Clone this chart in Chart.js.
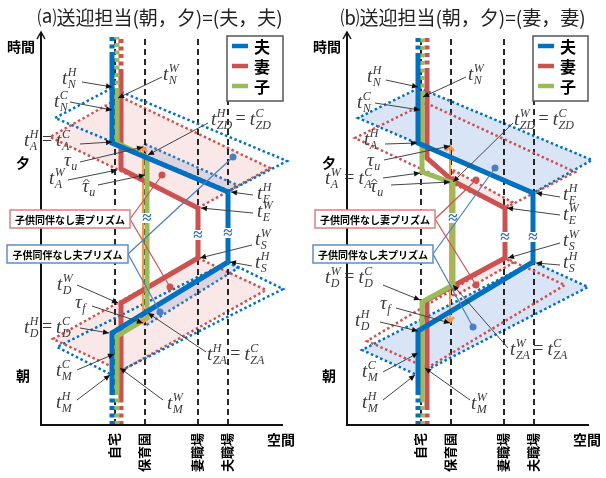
<!DOCTYPE html>
<html>
<head>
<meta charset="utf-8">
<script src="https://cdn.jsdelivr.net/npm/chart.js@4.4.1/dist/chart.umd.min.js"></script>
<style>
  body { margin: 0; background: #fff; width: 606px; height: 478px; overflow: hidden; }
  .panel { position: absolute; top: 0; width: 303px; height: 478px; }
</style>
</head>
<body>
<div class="panel" style="left:0"><canvas id="chartA" width="303" height="478"></canvas></div>
<div class="panel" style="left:303px"><canvas id="chartB" width="303" height="478"></canvas></div>
<script>
// space axis: 自宅 = 0, time axis: 0 at the bottom
const placeNames = ['自宅', '保育園', '妻職場', '夫職場'];
const placeX = [0, 30, 83, 113];
const X_MIN = -74, X_MAX = 185, X_AXIS_END = 168;
const T_MAX = 393, T_TOP = 388;

// ---- (a) 送迎担当 = 夫, 夫 ----
const a_husband = [[-3, 33], [-3, 92], [113, 163], [113, 233], [-3, 282], [-3, 369]];
const a_wife = [[6, 25], [6, 122], [83, 167], [83, 217], [6, 256], [6, 352]];
const a_child = [[2, 33], [2, 89], [32, 107], [32, 268], [2, 282], [2, 333]];
const a_nursery = [[28, 102], [28, 278]];
const a_wifePrismPM = [[6, 328], [155, 257], [83, 217], [-65, 288]];
const a_husbandPrismPM = [[-3, 337], [172, 264], [114, 234], [-60, 307]];
const a_husbandFreePM = [[30, 281], [122, 240], [113, 233], [30, 268]];
const a_wifePrismAM = [[83, 167], [151, 135], [6, 54], [-62, 86]];
const a_husbandPrismAM = [[113, 163], [168, 136], [-3, 50], [-58, 78]];
const a_husbandFreeAM = [[30, 112], [113, 163], [123, 157], [30, 99]];
const a_wifeDots = [[47, 250], [55, 138]];
const a_husbandDots = [[118, 268], [45, 113]];
const a_breaks = [[113, 192], [83, 190], [32, 207]];

// ---- (b) 送迎担当 = 妻, 妻 ----
const b_husband = [[-3, 33], [-3, 94], [112, 163], [112, 232], [-3, 282], [-3, 368]];
const b_wife = [[6, 19], [6, 125], [84, 167], [84, 217], [32, 244], [6, 267], [6, 353]];
const b_child = [[1, 25], [1, 123], [32, 140], [32, 242], [1, 253], [1, 330]];
const b_nursery = [[29, 103], [29, 279]];
const b_husbandPrismPM = [[-2, 337], [171, 265], [112, 232], [-63, 307]];
const b_wifePrismPM = [[5, 322], [154, 253], [84, 217], [-66, 287]];
const b_wifeFreePM = [[32, 255], [91, 223], [84, 217], [32, 243]];
const b_husbandPrismAM = [[112, 163], [167, 138], [-4, 50], [-59, 75]];
const b_wifePrismAM = [[84, 167], [144, 140], [6, 57], [-54, 84]];
const b_wifeFreeAM = [[32, 140], [84, 167], [92, 162], [32, 128]];
const b_wifeDots = [[55, 245], [55, 140]];
const b_husbandDots = [[74, 257], [52, 98]];
const b_breaks = [[112, 188], [84, 188], [32, 207]];

// label texts: [base, subscript, superscript] or '='
const a_labels = [
  { p: [['t', 'N', 'H']], at: [-53, 341], from: [-33, 343], to: [-3, 338] },
  { p: [['t', 'N', 'W']], at: [48, 345], from: [47, 348], to: [3, 327] },
  { p: [['t', 'N', 'C']], at: [-61, 318], from: [-45, 323], to: [-3, 315] },
  { p: [['t', 'A', 'H'], '=', ['t', 'A', 'C']], at: [-91, 279], from: [-35, 281], to: [-3, 283] },
  { p: [['t', 'ZD', 'H'], '=', ['t', 'ZD', 'C']], at: [96, 300], from: [93, 302], to: [33, 270] },
  { p: [['τ', 'u', '']], at: [-51, 259], from: [-35, 263], to: [28, 278] },
  { p: [['t', 'A', 'W']], at: [-66, 241], from: [-47, 245], to: [2, 255] },
  { p: [['τ̂', 'u', '']], at: [-33, 233], from: [-17, 240], to: [30, 250] },
  { p: [['t', 'E', 'H']], at: [142, 226], from: [138, 230], to: [116, 233] },
  { p: [['t', 'E', 'W']], at: [142, 208], from: [138, 212], to: [86, 217] },
  { p: [['t', 'S', 'W']], at: [140, 180], from: [137, 180], to: [85, 167] },
  { p: [['t', 'S', 'H']], at: [140, 157], from: [137, 159], to: [115, 163] },
  { p: [['t', 'D', 'W']], at: [-58, 135], from: [-38, 140], to: [3, 122] },
  { p: [['τ', 'f', '']], at: [-40, 117], from: [-23, 119], to: [28, 102] },
  { p: [['t', 'D', 'H'], '=', ['t', 'D', 'C']], at: [-91, 92], from: [-35, 97], to: [-6, 92] },
  { p: [['t', 'ZA', 'H'], '=', ['t', 'ZA', 'C']], at: [92, 65], from: [91, 73], to: [33, 112] },
  { p: [['t', 'M', 'C']], at: [-59, 49], from: [-38, 55], to: [-1, 71] },
  { p: [['t', 'M', 'H']], at: [-59, 17], from: [-38, 25], to: [-5, 50] },
  { p: [['t', 'M', 'W']], at: [52, 16], from: [48, 25], to: [5, 57] }
];
const b_labels = [
  { p: [['t', 'N', 'H']], at: [-54, 343], from: [-35, 345], to: [-3, 338] },
  { p: [['t', 'N', 'W']], at: [47, 345], from: [45, 348], to: [2, 328] },
  { p: [['t', 'N', 'C']], at: [-64, 317], from: [-46, 322], to: [-1, 315] },
  { p: [['t', 'A', 'H']], at: [-57, 280], from: [-36, 281], to: [-4, 282] },
  { p: [['t', 'ZD', 'W'], '=', ['t', 'ZD', 'C']], at: [93, 300], from: [92, 302], to: [32, 243] },
  { p: [['τ', 'u', '']], at: [-54, 259], from: [-37, 265], to: [29, 279] },
  { p: [['t', 'A', 'W'], '=', ['t', 'A', 'C']], at: [-96, 241], from: [-38, 247], to: [-1, 252] },
  { p: [['τ̂', 'u', '']], at: [-51, 233], from: [-30, 240], to: [29, 243] },
  { p: [['t', 'E', 'H']], at: [142, 225], from: [139, 228], to: [115, 232] },
  { p: [['t', 'E', 'W']], at: [142, 205], from: [139, 210], to: [86, 217] },
  { p: [['t', 'S', 'W']], at: [142, 179], from: [139, 182], to: [87, 167] },
  { p: [['t', 'S', 'H']], at: [142, 157], from: [139, 160], to: [115, 162] },
  { p: [['t', 'D', 'W'], '=', ['t', 'D', 'C']], at: [-96, 142], from: [-38, 140], to: [-1, 125] },
  { p: [['τ', 'f', '']], at: [-41, 116], from: [-25, 117], to: [29, 102] },
  { p: [['t', 'D', 'H']], at: [-66, 99], from: [-41, 103], to: [-3, 94] },
  { p: [['t', 'ZA', 'W'], '=', ['t', 'ZA', 'C']], at: [89, 70], from: [87, 77], to: [32, 140] },
  { p: [['t', 'M', 'C']], at: [-59, 48], from: [-38, 53], to: [-3, 72] },
  { p: [['t', 'M', 'H']], at: [-59, 17], from: [-38, 25], to: [-6, 50] },
  { p: [['t', 'M', 'W']], at: [50, 16], from: [49, 25], to: [4, 57] }
];

const BLUE = '#0070C0', RED = '#CC5252', GREEN = '#9BBB59', ORANGE = '#F79646';
const PINK_FILL = 'rgba(230,150,150,0.22)', BLUE_FILL = 'rgba(170,198,238,0.45)';
const FONT_JP = '"Noto Sans CJK JP", "Noto Sans", sans-serif';
const FONT_MATH = '"Liberation Serif", "DejaVu Serif", serif';

function pts(arr) { return arr.map(([x, y]) => ({ x, y })); }

function buildDatasets(d) {
  const ds = [];
  const add = (arr, style, order) => ds.push(Object.assign({
    data: pts(arr), order, pointRadius: 0, pointHoverRadius: 0, fill: false,
    tension: 0, clip: false, borderCapStyle: 'butt'
  }, style));
  const dotted = { borderWidth: 2.5, borderDash: [2.5, 2.6] };
  d.prisms.forEach(p => add(p.pts.concat([p.pts[0]]), Object.assign({
    borderColor: p.color, backgroundColor: p.fill || 'transparent', fill: p.fill ? 'shape' : false
  }, dotted), p.fill ? 30 : 20));
  placeX.forEach(x => add([[x, 0], [x, T_TOP]], { borderColor: '#111', borderWidth: 1.8, borderDash: [6, 4] }, 25));
  add(d.nursery, { borderColor: ORANGE, borderWidth: 2 }, 12);
  [[d.wife, RED, 11], [d.child, GREEN, 10], [d.husband, BLUE, 9]].forEach(([path, color, order]) => {
    const first = path[0], last = path[path.length - 1];
    const dash = { borderColor: color, borderWidth: 5, borderDash: [4, 3.5] };
    add([[first[0], 0], first], dash, order);
    add(path, { borderColor: color, borderWidth: 5, borderJoinStyle: 'miter' }, order);
    add([last, [last[0], T_TOP]], dash, order);
  });
  return ds;
}

function drawMath(ctx, x, y, parts) {
  let cx = x;
  ctx.textAlign = 'left';
  ctx.textBaseline = 'alphabetic';
  ctx.fillStyle = '#3a3a3a';
  parts.forEach(p => {
    if (p === '=') {
      ctx.font = `18px ${FONT_MATH}`;
      ctx.fillText('=', cx + 3, y - 1);
      cx += ctx.measureText('=').width + 7;
      return;
    }
    const [base, sub, sup] = p;
    const hat = base === 'τ̂';
    const b = hat ? 'τ' : base;
    ctx.font = `italic 19px ${FONT_MATH}`;
    ctx.fillText(b, cx, y);
    const bw = ctx.measureText(b).width;
    if (hat) {
      ctx.strokeStyle = '#3a3a3a';
      ctx.lineWidth = 1;
      ctx.beginPath();
      ctx.moveTo(cx + bw / 2 - 2, y - 10);
      ctx.lineTo(cx + bw / 2 + 1, y - 13);
      ctx.lineTo(cx + bw / 2 + 4, y - 10);
      ctx.stroke();
    }
    ctx.font = `italic 12px ${FONT_MATH}`;
    let w = 0;
    if (sup) { ctx.fillText(sup, cx + bw + 0.5, y - 8); w = Math.max(w, ctx.measureText(sup).width); }
    if (sub) { ctx.fillText(sub, cx + bw + 0.5, y + 4); w = Math.max(w, ctx.measureText(sub).width); }
    cx += bw + w + 1;
  });
}

function arrow(ctx, x1, y1, x2, y2) {
  ctx.strokeStyle = '#444';
  ctx.lineWidth = 1;
  ctx.beginPath(); ctx.moveTo(x1, y1); ctx.lineTo(x2, y2); ctx.stroke();
  const a = Math.atan2(y2 - y1, x2 - x1), L = 6, W = 2.8;
  ctx.fillStyle = '#111';
  ctx.beginPath();
  ctx.moveTo(x2, y2);
  ctx.lineTo(x2 - L * Math.cos(a) + W * Math.sin(a), y2 - L * Math.sin(a) - W * Math.cos(a));
  ctx.lineTo(x2 - L * Math.cos(a) - W * Math.sin(a), y2 - L * Math.sin(a) + W * Math.cos(a));
  ctx.closePath(); ctx.fill();
}

const diagram = {
  id: 'diagram',
  afterDatasetsDraw(chart, args, o) {
    const ctx = chart.ctx;
    const X = v => chart.scales.x.getPixelForValue(v);
    const Y = v => chart.scales.y.getPixelForValue(v);
    ctx.save();

    // axes
    ctx.strokeStyle = '#111';
    ctx.lineWidth = 2;
    ctx.setLineDash([]);
    ctx.beginPath();
    ctx.moveTo(X(X_MIN), Y(T_MAX));
    ctx.lineTo(X(X_MIN), Y(0));
    ctx.lineTo(X(X_AXIS_END), Y(0));
    ctx.stroke();
    ctx.lineWidth = 1.5;
    ctx.beginPath();
    ctx.moveTo(X(X_MIN) - 4, Y(T_MAX) + 7);
    ctx.lineTo(X(X_MIN), Y(T_MAX));
    ctx.lineTo(X(X_MIN) + 4, Y(T_MAX) + 7);
    ctx.stroke();

    // orange nursery hours arrow heads
    const [nb, nt] = o.nursery;
    ctx.strokeStyle = ORANGE;
    ctx.lineWidth = 2.5;
    ctx.beginPath();
    ctx.moveTo(X(nt[0]) - 4, Y(nt[1]) + 5); ctx.lineTo(X(nt[0]), Y(nt[1])); ctx.lineTo(X(nt[0]) + 4, Y(nt[1]) + 5);
    ctx.moveTo(X(nb[0]) - 4, Y(nb[1]) - 5); ctx.lineTo(X(nb[0]), Y(nb[1])); ctx.lineTo(X(nb[0]) + 4, Y(nb[1]) - 5);
    ctx.stroke();

    // ≈ breaks on long stays
    o.breaks.forEach(([x, t]) => {
      ctx.fillStyle = '#fff';
      ctx.fillRect(X(x) - 6, Y(t) - 5, 12, 10);
      ctx.fillStyle = '#2F6FB5';
      ctx.font = `bold 17px ${FONT_MATH}`;
      ctx.textAlign = 'center'; ctx.textBaseline = 'middle';
      ctx.fillText('≈', X(x), Y(t) + 1);
    });

    // callouts
    o.callouts.forEach(c => {
      ctx.strokeStyle = c.line; ctx.fillStyle = c.line; ctx.lineWidth = 1.2;
      c.dots.forEach(([x, t]) => {
        ctx.beginPath(); ctx.moveTo(X(c.box[1]), Y((c.box[2] + c.box[3]) / 2)); ctx.lineTo(X(x), Y(t)); ctx.stroke();
        ctx.beginPath(); ctx.arc(X(x), Y(t), 3.5, 0, Math.PI * 2); ctx.fill();
      });
      const x0 = X(c.box[0]), x1 = X(c.box[1]), y0 = Y(c.box[2]), y1 = Y(c.box[3]);
      ctx.fillStyle = '#fff'; ctx.fillRect(x0, y0, x1 - x0, y1 - y0);
      ctx.strokeStyle = c.border; ctx.lineWidth = 1.5; ctx.strokeRect(x0, y0, x1 - x0, y1 - y0);
      ctx.fillStyle = '#000'; ctx.font = `bold 10px ${FONT_JP}`;
      ctx.textAlign = 'center'; ctx.textBaseline = 'middle';
      ctx.fillText(c.text, (x0 + x1) / 2, (y0 + y1) / 2 + 1);
    });

    // labels with arrows
    o.labels.forEach(l => {
      arrow(ctx, X(l.from[0]), Y(l.from[1]), X(l.to[0]), Y(l.to[1]));
      drawMath(ctx, X(l.at[0]), Y(l.at[1]), l.p);
    });

    // legend
    const lg = o.legend;
    const lx0 = X(lg[0]), lx1 = X(lg[1]), ly0 = Y(lg[2]), ly1 = Y(lg[3]);
    ctx.fillStyle = '#fff'; ctx.fillRect(lx0, ly0, lx1 - lx0, ly1 - ly0);
    ctx.strokeStyle = '#555'; ctx.lineWidth = 1.5; ctx.strokeRect(lx0, ly0, lx1 - lx0, ly1 - ly0);
    [['夫', BLUE], ['妻', RED], ['子', GREEN]].forEach(([name, color], i) => {
      const yy = ly0 + 10 + i * 20;
      ctx.strokeStyle = color; ctx.lineWidth = 4.5;
      ctx.beginPath(); ctx.moveTo(lx0 + 5, yy); ctx.lineTo(lx0 + 21, yy); ctx.stroke();
      ctx.fillStyle = '#000'; ctx.font = `bold 16px ${FONT_JP}`;
      ctx.textAlign = 'left'; ctx.textBaseline = 'middle';
      ctx.fillText(name, lx0 + 27, yy + 1);
    });

    // axis texts
    ctx.fillStyle = '#000';
    ctx.font = `bold 14px ${FONT_JP}`;
    ctx.textAlign = 'center'; ctx.textBaseline = 'middle';
    ctx.fillText('時間', X(-94), Y(378));
    ctx.fillText('夕', X(-92), Y(262));
    ctx.fillText('朝', X(-92), Y(49));
    ctx.fillText('空間', X(166), Y(-15));
    ctx.font = `bold 13px ${FONT_JP}`;
    placeNames.forEach((name, i) => {
      ctx.save();
      ctx.translate(X(placeX[i]) - 1, Y(-8));
      ctx.rotate(-Math.PI / 2);
      ctx.textAlign = 'right'; ctx.textBaseline = 'middle';
      ctx.fillText(name, 0, 0);
      ctx.restore();
    });

    // title
    ctx.fillStyle = '#222';
    ctx.font = `19px ${FONT_JP}`;
    ctx.textAlign = 'center'; ctx.textBaseline = 'middle';
    ctx.fillText(o.title, 160, 18);
    ctx.restore();
  }
};

function makeChart(id, pad, d, notes) {
  return new Chart(document.getElementById(id), {
    type: 'line',
    data: { datasets: buildDatasets(d) },
    options: {
      responsive: false,
      animation: false,
      events: [],
      layout: { autoPadding: false, padding: { left: pad[0], right: pad[1], top: 32, bottom: 53 } },
      scales: {
        x: { type: 'linear', min: X_MIN, max: X_MAX, display: false },
        y: { type: 'linear', min: 0, max: T_MAX, display: false }
      },
      plugins: { legend: { display: false }, tooltip: { enabled: false }, diagram: notes }
    },
    plugins: [diagram]
  });
}

makeChart('chartA', [41, 3], {
  husband: a_husband, wife: a_wife, child: a_child, nursery: a_nursery,
  prisms: [
    { pts: a_wifePrismPM, color: RED, fill: PINK_FILL },
    { pts: a_wifePrismAM, color: RED, fill: PINK_FILL },
    { pts: a_husbandFreePM, color: BLUE, fill: BLUE_FILL },
    { pts: a_husbandFreeAM, color: BLUE, fill: BLUE_FILL },
    { pts: a_husbandPrismPM, color: BLUE },
    { pts: a_husbandPrismAM, color: BLUE }
  ]
}, {
  title: '⒜送迎担当(朝，夕)=(夫，夫)',
  nursery: a_nursery, breaks: a_breaks, labels: a_labels,
  legend: [112, 168, 389, 324],
  callouts: [
    { text: '子供同伴なし妻プリズム', box: [-105, 15, 215, 197], dots: a_wifeDots, border: '#D88080', line: RED },
    { text: '子供同伴なし夫プリズム', box: [-108, 13, 180, 162], dots: a_husbandDots, border: '#5B8FCB', line: '#4A7EC0' }
  ]
});

makeChart('chartB', [44, 0], {
  husband: b_husband, wife: b_wife, child: b_child, nursery: b_nursery,
  prisms: [
    { pts: b_husbandPrismPM, color: BLUE, fill: BLUE_FILL },
    { pts: b_husbandPrismAM, color: BLUE, fill: BLUE_FILL },
    { pts: b_wifeFreePM, color: RED, fill: PINK_FILL },
    { pts: b_wifeFreeAM, color: RED, fill: PINK_FILL },
    { pts: b_wifePrismPM, color: RED },
    { pts: b_wifePrismAM, color: RED }
  ]
}, {
  title: '⒝送迎担当(朝，夕)=(妻，妻)',
  nursery: b_nursery, breaks: b_breaks, labels: b_labels,
  legend: [112, 167, 389, 324],
  callouts: [
    { text: '子供同伴なし妻プリズム', box: [-106, 14, 215, 197], dots: b_wifeDots, border: '#D88080', line: RED },
    { text: '子供同伴なし夫プリズム', box: [-108, 12, 180, 162], dots: b_husbandDots, border: '#5B8FCB', line: '#4A7EC0' }
  ]
});
</script>
</body>
</html>
